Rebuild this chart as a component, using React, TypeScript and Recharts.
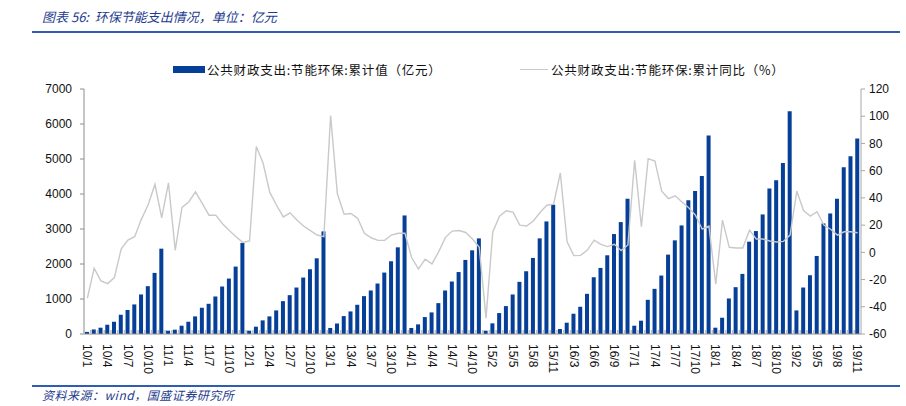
import React from "react";
import { ComposedChart, Bar, Line, XAxis, YAxis } from "recharts";

const months: string[] = [
  "10/1","10/2","10/3","10/4","10/5","10/6","10/7","10/8","10/9","10/10","10/11","10/12",
  "11/1","11/2","11/3","11/4","11/5","11/6","11/7","11/8","11/9","11/10","11/11","11/12",
  "12/1","12/2","12/3","12/4","12/5","12/6","12/7","12/8","12/9","12/10","12/11","12/12",
  "13/1","13/2","13/3","13/4","13/5","13/6","13/7","13/8","13/9","13/10","13/11","13/12",
  "14/1","14/2","14/3","14/4","14/5","14/6","14/7","14/8","14/9","14/10","14/11",
  "15/1","15/2","15/3","15/4","15/5","15/6","15/7","15/8","15/9","15/10","15/11",
  "16/1","16/2","16/3","16/4","16/5","16/6","16/7","16/8","16/9","16/10","16/11",
  "17/1","17/2","17/3","17/4","17/5","17/6","17/7","17/8","17/9","17/10","17/11","17/12",
  "18/1","18/2","18/3","18/4","18/5","18/6","18/7","18/8","18/9","18/10","18/11","18/12",
  "19/2","19/3","19/4","19/5","19/6","19/7","19/8","19/9","19/10","19/11",
];

const cumulativeValue: number[] = [
  60,130,180,265,350,550,683,845,1130,1366,1746,2438,
  95,123,237,350,503,750,863,1072,1357,1584,1926,2600,
  95,209,389,503,674,939,1110,1328,1613,1850,2163,2932,
  171,300,512,645,835,1082,1243,1442,1755,2078,2476,3387,
  171,275,484,617,882,1243,1500,1770,2116,2391,2732,
  95,304,598,797,1129,1490,1793,2173,2732,3216,3691,
  142,323,579,778,1148,1622,1888,2249,2856,3197,3862,
  237,380,977,1290,1670,2268,2676,3102,3824,4089,4516,5674,
  180,465,1015,1338,1717,2638,2941,3416,4156,4393,4886,6366,
  674,1328,1679,2230,3159,3444,3861,4763,5076,5588,
];

const cumulativeYoY: number[] = [
  -33.7,-11.7,-21,-23,-18.5,2.4,9,11.5,24.4,35,50,25.4,
  51,1.5,33,37,44.4,36,27.3,27.3,21,16,11.5,7.3,
  8.3,77.8,65.6,44,34.6,26,29,23.7,19.3,16,12.7,11.5,
  100.5,43,28,28.5,25,14,10.7,8.8,8.8,12.7,14,14,
  -4,-12.2,-5,-8.5,0.5,11,15.6,16,14.6,9.8,3.7,
  -48.3,15,26.6,30.5,29.5,20,19.3,23,29.3,34.6,35.4,
  58.3,7.8,-2.4,-2.2,1.7,9,5.9,4.2,5.9,1.3,5.4,
  67.6,18.8,68.8,67,44.9,39.5,41.5,37,32.7,27.3,17,19.3,
  -23.4,23.7,3.7,3.2,3.2,16.3,9.8,9.8,8.3,7.6,8,12.7,
  44.9,30.7,26.6,29.8,20,17,12.7,15.1,15.1,14.4,
];

const leftTicks: number[] = [0, 1000, 2000, 3000, 4000, 5000, 6000, 7000];
const rightTicks: number[] = [-60, -40, -20, 0, 20, 40, 60, 80, 100, 120];

const seriesBar = "公共财政支出:节能环保:累计值（亿元）";
const seriesLine = "公共财政支出:节能环保:累计同比（%）";
const titleText = "图表 56:  环保节能支出情况，单位：亿元";
const sourceText = "资料来源：wind，国盛证券研究所";

const data = months.map((m, i) => ({
  month: m,
  value: cumulativeValue[i],
  yoy: cumulativeYoY[i],
}));

const BAR_COLOR = "#063F98";
const LINE_COLOR = "#C9C9C9";
const TEXT_BLUE = "#1E3C8E";
const AXIS_FONT = "'Liberation Sans', Arial, sans-serif";
const CJK_FONT = "'Noto Sans CJK SC', 'Noto Sans', sans-serif";

const PLOT_LEFT = 84;
const PLOT_RIGHT = 861;
const BAND = (PLOT_RIGHT - PLOT_LEFT) / months.length;

const XTick = (props: any) => {
  const { x, y, payload } = props;
  const index = props.index ?? payload?.index ?? 0;
  return (
    <g>
      <line x1={x - BAND / 2} x2={x - BAND / 2} y1={y} y2={y - 4} stroke="#BDBDBD" strokeWidth={1.5} />
      {index % 3 === 0 ? (
        <text
          x={0}
          y={0}
          transform={`translate(${x},${y + 10}) rotate(90)`}
          dy="0.36em"
          textAnchor="start"
          fontSize={12}
          fontFamily={AXIS_FONT}
          fill="#111"
        >
          {payload.value}
        </text>
      ) : null}
    </g>
  );
};

const legendText: React.CSSProperties = {
  position: "absolute",
  top: 61,
  fontSize: 12.5,
  lineHeight: "17px",
  fontFamily: CJK_FONT,
  color: "#111",
  whiteSpace: "nowrap",
  letterSpacing: "0.8px",
};

export default function App() {
  return (
    <div style={{ position: "absolute", left: 0, top: 0, width: 906, height: 406, background: "#fff" }}>
      <div
        style={{
          position: "absolute",
          left: 42,
          top: 8,
          fontSize: 13,
          lineHeight: "18px",
          fontStyle: "italic",
          color: TEXT_BLUE,
          fontFamily: CJK_FONT,
          whiteSpace: "pre",
        }}
      >
        {titleText}
      </div>
      <div style={{ position: "absolute", left: 32, top: 31, width: 868, height: 2, background: "#2F5DB2" }} />

      <div style={{ position: "absolute", left: 173, top: 66, width: 32, height: 7, background: BAR_COLOR }} />
      <div style={{ ...legendText, left: 207 }}>{seriesBar}</div>
      <div style={{ position: "absolute", left: 520, top: 68.5, width: 28, height: 1.6, background: LINE_COLOR }} />
      <div style={{ ...legendText, left: 551 }}>{seriesLine}</div>

      <div style={{ position: "absolute", left: 0, top: 0 }}>
        <ComposedChart
          width={906}
          height={406}
          data={data}
          margin={{ top: 89, right: 0, bottom: 0, left: 0 }}
        >
          <XAxis
            dataKey="month"
            xAxisId="x"
            height={72}
            interval={0}
            tick={<XTick />}
            tickLine={false}
            tickSize={0}
            tickMargin={0}
            axisLine={{ stroke: "#8C8C8C", strokeWidth: 1 }}
          />
          <YAxis
            yAxisId="left"
            width={84}
            domain={[0, 7000]}
            ticks={leftTicks}
            interval={0}
            tickSize={4}
            tickMargin={8}
            tickLine={{ stroke: "#8C8C8C" }}
            axisLine={{ stroke: "#8C8C8C" }}
            tick={{ fontSize: 12, fontFamily: AXIS_FONT, fill: "#111" }}
          />
          <YAxis
            yAxisId="right"
            orientation="right"
            width={45}
            domain={[-60, 120]}
            ticks={rightTicks}
            interval={0}
            tickSize={4}
            tickMargin={4}
            tickLine={{ stroke: "#A8A8A8" }}
            axisLine={{ stroke: "#A8A8A8" }}
            tick={{ fontSize: 12, fontFamily: AXIS_FONT, fill: "#111" }}
          />
          <Bar
            dataKey="value"
            xAxisId="x"
            yAxisId="left"
            fill={BAR_COLOR}
            barSize={4}
            isAnimationActive={false}
          />
          <Line
            dataKey="yoy"
            xAxisId="x"
            yAxisId="right"
            type="linear"
            stroke={LINE_COLOR}
            strokeWidth={1.4}
            dot={false}
            activeDot={false}
            isAnimationActive={false}
          />
        </ComposedChart>
      </div>

      <div style={{ position: "absolute", left: 32, top: 385, width: 868, height: 2, background: "#2F5DB2" }} />
      <div
        style={{
          position: "absolute",
          left: 42,
          top: 387,
          fontSize: 12,
          lineHeight: "16px",
          fontStyle: "italic",
          color: TEXT_BLUE,
          fontFamily: CJK_FONT,
          whiteSpace: "nowrap",
          letterSpacing: "0.5px",
        }}
      >
        {sourceText}
      </div>
    </div>
  );
}
